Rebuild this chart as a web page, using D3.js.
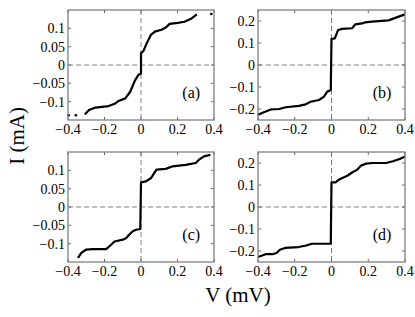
<!DOCTYPE html>
<html>
<head>
<meta charset="utf-8">
<script src="https://cdn.jsdelivr.net/npm/d3@7"></script>
<style>
  body { margin: 0; background: #fff; }
  svg { display: block; }
  .tick-label { font-family: "Liberation Serif", "Times New Roman", serif; font-size: 14px; fill: #000; }
  .axis-title { font-family: "Liberation Serif", "Times New Roman", serif; font-size: 21px; fill: #000; }
  .panel-label { font-family: "Liberation Serif", "Times New Roman", serif; font-size: 16px; fill: #000; }
</style>
</head>
<body>
<script>
let svgWidth = 415
let svgHeight = 317

// tick values
let vTicks = [-0.4, -0.2, 0, 0.2, 0.4]
let iTicksSmall = [-0.1, -0.05, 0, 0.05, 0.1]
let iTicksLarge = [-0.2, -0.1, 0, 0.1, 0.2]

let panelNames = ["(a)", "(b)", "(c)", "(d)"]

// (a)
let aV = [-0.308, -0.285, -0.249, -0.177, -0.141, -0.123, -0.086, -0.059, -0.032, -0.014, 0, 0, 0.013, 0.031, 0.054, 0.076, 0.112, 0.135, 0.157, 0.202, 0.238, 0.274, 0.306]
let aI = [-0.135, -0.123, -0.116, -0.112, -0.105, -0.098, -0.091, -0.073, -0.041, -0.027, -0.023, 0.032, 0.038, 0.059, 0.082, 0.091, 0.096, 0.102, 0.112, 0.115, 0.118, 0.126, 0.138]
let aDotV = [-0.396, -0.357, 0.385]
let aDotI = [-0.137, -0.137, 0.139]

// (b)
let bV = [-0.402, -0.375, -0.330, -0.285, -0.249, -0.177, -0.141, -0.114, -0.068, -0.041, -0.023, -0.004, 0, 0.018, 0.036, 0.058, 0.112, 0.130, 0.166, 0.184, 0.220, 0.310, 0.400]
let bI = [-0.227, -0.217, -0.202, -0.200, -0.192, -0.186, -0.179, -0.167, -0.159, -0.144, -0.121, -0.114, 0.118, 0.121, 0.159, 0.164, 0.167, 0.185, 0.189, 0.194, 0.197, 0.203, 0.230]

// (c)
let cV = [-0.345, -0.327, -0.300, -0.264, -0.191, -0.173, -0.145, -0.100, -0.082, -0.064, -0.045, -0.027, -0.004, 0, 0.027, 0.055, 0.073, 0.085, 0.136, 0.173, 0.245, 0.300, 0.318, 0.345, 0.380]
let cI = [-0.139, -0.125, -0.116, -0.115, -0.115, -0.107, -0.094, -0.089, -0.085, -0.075, -0.066, -0.062, -0.060, 0.067, 0.070, 0.079, 0.093, 0.102, 0.104, 0.111, 0.115, 0.120, 0.129, 0.138, 0.142]

// (d)
let dV = [-0.400, -0.354, -0.317, -0.299, -0.281, -0.253, -0.180, -0.143, -0.106, -0.079, -0.033, -0.004, 0, 0.022, 0.040, 0.059, 0.086, 0.114, 0.141, 0.160, 0.187, 0.224, 0.297, 0.334, 0.371, 0.400]
let dI = [-0.227, -0.214, -0.214, -0.209, -0.194, -0.186, -0.182, -0.176, -0.167, -0.167, -0.167, -0.167, 0.112, 0.112, 0.124, 0.132, 0.142, 0.158, 0.170, 0.188, 0.197, 0.200, 0.200, 0.208, 0.218, 0.230]

let panels = [
    { name: panelNames[0], v: aV, i: aI, dotV: aDotV, dotI: aDotI, iMax: 0.15, iTicks: iTicksSmall, x: 68, y: 10, w: 146, h: 110 },
    { name: panelNames[1], v: bV, i: bI, dotV: [], dotI: [], iMax: 0.25, iTicks: iTicksLarge, x: 258, y: 10, w: 147, h: 110 },
    { name: panelNames[2], v: cV, i: cI, dotV: [], dotI: [], iMax: 0.15, iTicks: iTicksSmall, x: 68, y: 152, w: 146, h: 110 },
    { name: panelNames[3], v: dV, i: dI, dotV: [], dotI: [], iMax: 0.25, iTicks: iTicksLarge, x: 258, y: 152, w: 147, h: 110 }
]

let svg = d3.select("body")
    .append("svg")
    .attr("width", svgWidth)
    .attr("height", svgHeight)

let fmt = function (d) {
    return d === 0 ? "0" : String(d).replace("-", "\u2212")
}

function drawPanel(p) {
    let xScale = d3.scaleLinear().domain([-0.4, 0.4]).range([0, p.w])
    let yScale = d3.scaleLinear().domain([-p.iMax, p.iMax]).range([p.h, 0])

    let g = svg.append("g")
        .attr("transform", "translate(" + p.x + "," + p.y + ")")

    // zero lines
    g.append("line")
        .attr("x1", xScale(0)).attr("x2", xScale(0))
        .attr("y1", 0).attr("y2", p.h)
        .attr("stroke", "#808080")
        .attr("stroke-dasharray", "5,3")
    g.append("line")
        .attr("x1", 0).attr("x2", p.w)
        .attr("y1", yScale(0)).attr("y2", yScale(0))
        .attr("stroke", "#808080")
        .attr("stroke-dasharray", "5,3")

    // inward ticks on all four sides
    let tickLen = 3
    vTicks.forEach(function (t) {
        g.append("line").attr("x1", xScale(t)).attr("x2", xScale(t))
            .attr("y1", p.h).attr("y2", p.h - tickLen).attr("stroke", "#666")
        g.append("line").attr("x1", xScale(t)).attr("x2", xScale(t))
            .attr("y1", 0).attr("y2", tickLen).attr("stroke", "#666")
        g.append("text")
            .attr("class", "tick-label")
            .attr("x", xScale(t))
            .attr("y", p.h + 14)
            .attr("text-anchor", "middle")
            .text(fmt(t))
    })
    p.iTicks.forEach(function (t) {
        g.append("line").attr("x1", 0).attr("x2", tickLen)
            .attr("y1", yScale(t)).attr("y2", yScale(t)).attr("stroke", "#666")
        g.append("line").attr("x1", p.w).attr("x2", p.w - tickLen)
            .attr("y1", yScale(t)).attr("y2", yScale(t)).attr("stroke", "#666")
        g.append("text")
            .attr("class", "tick-label")
            .attr("x", -3)
            .attr("y", yScale(t))
            .attr("dy", "0.35em")
            .attr("text-anchor", "end")
            .text(fmt(t))
    })

    // curve
    let pts = p.v.map(function (v, k) { return [v, p.i[k]] })
    g.append("path")
        .datum(pts)
        .attr("d", d3.line()
            .x(function (d) { return xScale(d[0]) })
            .y(function (d) { return yScale(d[1]) }))
        .attr("fill", "none")
        .attr("stroke", "#000")
        .attr("stroke-width", 2.2)
        .attr("stroke-linejoin", "round")

    // isolated points
    g.selectAll(".dot")
        .data(p.dotV.map(function (v, k) { return [v, p.dotI[k]] }))
        .enter()
        .append("circle")
        .attr("cx", function (d) { return xScale(d[0]) })
        .attr("cy", function (d) { return yScale(d[1]) })
        .attr("r", 1.3)
        .attr("fill", "#000")

    // frame
    g.append("rect")
        .attr("width", p.w)
        .attr("height", p.h)
        .attr("fill", "none")
        .attr("stroke", "#808080")
        .attr("stroke-width", 1.3)

    // panel label
    g.append("text")
        .attr("class", "panel-label")
        .attr("x", xScale(0.275))
        .attr("y", yScale(-p.iMax * 0.5))
        .attr("dy", "0.35em")
        .attr("text-anchor", "middle")
        .text(p.name)
}

panels.forEach(drawPanel)

// axis titles
svg.append("text")
    .attr("class", "axis-title")
    .attr("text-anchor", "middle")
    .attr("transform", "translate(24,136) rotate(-90)")
    .text("I (mA)")

svg.append("text")
    .attr("class", "axis-title")
    .attr("text-anchor", "middle")
    .attr("x", 238)
    .attr("y", 302)
    .text("V (mV)")
</script>
</body>
</html>
